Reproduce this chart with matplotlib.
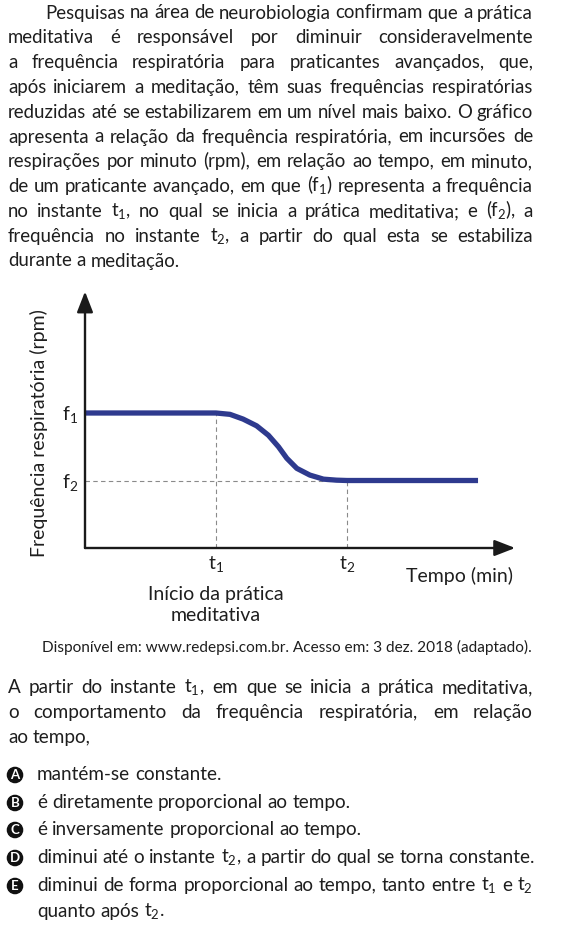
import numpy as np
import matplotlib
matplotlib.use('Agg')
import matplotlib.pyplot as plt

plt.rcParams['font.family'] = ['Lato', 'DejaVu Sans']
plt.rcParams['mathtext.fontset'] = 'custom'
plt.rcParams['mathtext.rm'] = 'Lato'

# curve (time in arbitrary units, frequency with f2=1, f1=2)
curve_t = [0.0, 3.0, 3.32, 3.62, 3.93, 4.20, 4.43, 4.62, 4.85, 5.15, 5.46, 5.76, 6.0, 9.0]
curve_f = [2.0, 2.0, 1.98, 1.91, 1.81, 1.67, 1.50, 1.33, 1.18, 1.08, 1.02, 1.005, 1.0, 1.0]
t1, t2 = 3.0, 6.0
f1, f2 = 2.0, 1.0
x_ticks = [t1, t2]
x_labels = [r't$_\mathregular{1}$', r't$_\mathregular{2}$']
y_ticks = [f1, f2]
y_labels = [r'f$_\mathregular{1}$', r'f$_\mathregular{2}$']

para_lines = [
    "Pesquisas na área de neurobiologia confirmam que a prática",
    "meditativa é responsável por diminuir consideravelmente",
    "a frequência respiratória para praticantes avançados, que,",
    "após iniciarem a meditação, têm suas frequências respiratórias",
    "reduzidas até se estabilizarem em um nível mais baixo. O gráfico",
    "apresenta a relação da frequência respiratória, em incursões de",
    "respirações por minuto (rpm), em relação ao tempo, em minuto,",
    r"de um praticante avançado, em que (f$_\mathregular{1}$) representa a frequência",
    r"no instante t$_\mathregular{1}$, no qual se inicia a prática meditativa; e (f$_\mathregular{2}$), a",
    r"frequência no instante t$_\mathregular{2}$, a partir do qual esta se estabiliza",
    "durante a meditação.",
]
source = "Disponível em: www.redepsi.com.br. Acesso em: 3 dez. 2018 (adaptado)."
question_lines = [
    r"A partir do instante t$_\mathregular{1}$, em que se inicia a prática meditativa,",
    "o comportamento da frequência respiratória, em relação",
    "ao tempo,",
]
option_letters = ['A', 'B', 'C', 'D', 'E']
option_lines = [
    ["mantém-se constante."],
    ["é diretamente proporcional ao tempo."],
    ["é inversamente proporcional ao tempo."],
    [r"diminui até o instante t$_\mathregular{2}$, a partir do qual se torna constante."],
    [r"diminui de forma proporcional ao tempo, tanto entre t$_\mathregular{1}$ e t$_\mathregular{2}$",
     r"quanto após t$_\mathregular{2}$."],
]

W, H = 573, 939
TXT = '#1e1e1e'
fig = plt.figure(figsize=(W / 100, H / 100), dpi=100)
renderer = fig.canvas.get_renderer()


def text_width(s, size):
    t = fig.text(0, 0, s, fontsize=size)
    w = t.get_window_extent(renderer).width
    t.remove()
    return w


def fit_size(lines, spans, s0=10.0):
    # size at which the widest line just fills its span with normal spaces
    return s0 * min((x1 - x0) / text_width(l, s0) for l, (x0, x1) in zip(lines, spans))


def put_line(s, x0, x1, base, size, justify=True):
    words = s.split(' ')
    objs = []
    widths = []
    for w in words:
        t = fig.text(x0 / W, 1 - base / H, w, fontsize=size, color=TXT, va='baseline', ha='left')
        objs.append(t)
        widths.append(t.get_window_extent(renderer).width)
    if justify and len(words) > 1:
        gap = (x1 - x0 - sum(widths)) / (len(words) - 1)
    else:
        gap = text_width('a a', size) - text_width('aa', size)
    x = x0
    for t, w in zip(objs, widths):
        t.set_x(x / W)
        x += w + gap


# paragraph
spans = [(45, 533)] + [(8, 533)] * (len(para_lines) - 2)
p_size = fit_size(para_lines[:-1], spans)
for i, line in enumerate(para_lines):
    x0 = 45 if i == 0 else 8
    put_line(line, x0, 533, 18.5 + 24.8 * i, p_size, justify=(i < len(para_lines) - 1))

# chart
ax = fig.add_axes([85 / W, (H - 548) / H, 436.7 / W, 270 / H])
ax.set_xlim(0, 10)
ax.set_ylim(0, 4)
for s in ax.spines.values():
    s.set_visible(False)
ax.set_facecolor('none')

ax.plot([0, t2], [f2, f2], ls=(0, (4, 3)), color='#8a8a8a', lw=0.8)
ax.plot([t1, t1], [0, f1], ls=(0, (4, 3)), color='#8a8a8a', lw=0.8)
ax.plot([t2, t2], [0, f2], ls=(0, (4, 3)), color='#8a8a8a', lw=0.8)
ax.plot(curve_t, curve_f, color='#2e3a8e', lw=3.8, solid_capstyle='butt', solid_joinstyle='round')

ax.annotate('', xy=(9.85, 0), xytext=(0, 0),
            arrowprops=dict(arrowstyle='-|>,head_length=0.9,head_width=0.35', color='#1a1a1a', lw=1.7,
                            shrinkA=0, shrinkB=0, mutation_scale=14))
ax.annotate('', xy=(0, 3.8), xytext=(0, 0),
            arrowprops=dict(arrowstyle='-|>,head_length=0.9,head_width=0.35', color='#1a1a1a', lw=1.7,
                            shrinkA=0, shrinkB=0, mutation_scale=14))

ax.set_xticks(x_ticks, labels=x_labels, fontsize=14, color=TXT)
ax.set_yticks(y_ticks, labels=y_labels, fontsize=14, color=TXT)
ax.tick_params(length=0, pad=5)
ax.set_ylabel('Frequência respiratória (rpm)', fontsize=14, color=TXT)
ax.yaxis.set_label_coords(-0.085, 0.426)
ax.text(9.8, -0.42, 'Tempo (min)', fontsize=14, color=TXT, ha='right', va='center')
ax.text(t1, -0.85, 'Início da prática\nmeditativa', fontsize=14, color=TXT, ha='center', va='center',
        linespacing=1.3)

# source
s_size = fit_size([source], [(42, 532)])
fig.text(532 / W, 1 - 652 / H, source, fontsize=s_size, color=TXT, ha='right', va='baseline')

# question
q_size = fit_size([question_lines[0], option_lines[3][0]], [(8, 533), (37, 533)])
for i, line in enumerate(question_lines):
    put_line(line, 8, 533, 693 + 25 * i, q_size, justify=(i < len(question_lines) - 1))

# options
opt_base = [780, 808, 835, 863, 891]
for k, (letter, lines) in enumerate(zip(option_letters, option_lines)):
    b = opt_base[k]
    fig.text(15 / W, 1 - (b - 5) / H, letter, fontsize=9.5, fontweight='bold', color='white',
             ha='center', va='center',
             bbox=dict(boxstyle='circle,pad=0.12', fc='#111111', ec='#111111'))
    for j, line in enumerate(lines):
        put_line(line, 37, 533, b + 26 * j, q_size, justify=(len(lines) > 1 and j == 0))

fig.savefig('out.png', dpi=100)
